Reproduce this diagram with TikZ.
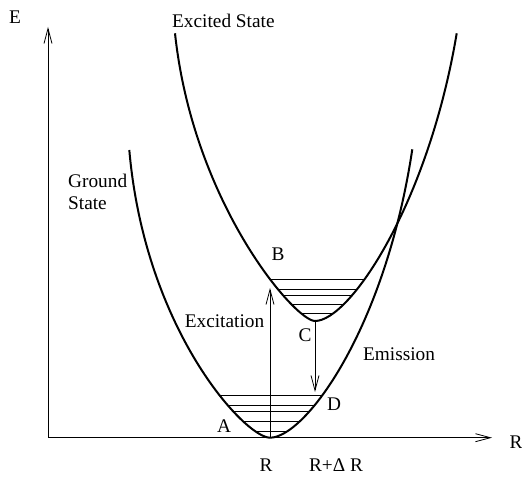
\documentclass[tikz,border=0pt]{standalone}
\usepackage{fontspec}
\setmainfont{Liberation Serif}
\usetikzlibrary{arrows.meta}

\newcommand\groundcurve{(129.3,150) .. controls (145,330) and (245,437.7) .. (270,437.7)
  .. controls (305,437.7) and (385,330) .. (412.3,149.3)}
\newcommand\excitedcurve{(175,33.3) .. controls (193.2,203.3) and (295,321) .. (315,321)
  .. controls (350,321) and (428.3,203.3) .. (456.7,33.3)}

\begin{document}
\begin{tikzpicture}[x=1pt,y=-1pt,
  curve/.style={line width=2pt},
  level/.style={line width=0.7pt},
  arr/.style={line width=0.8pt,-{Straight Barb[length=15pt,width=8pt]}},
  lbl/.style={font=\fontsize{19.3}{22.5}\selectfont,inner sep=0pt}]
  \useasboundingbox (0,0) rectangle (522,478);

  % axes
  \coordinate (O) at (48,437.7);
  \coordinate (Etop) at (48,27);
  \coordinate (Rend) at (492,437.7);
  \draw[arr] (O) -- (Etop);
  \draw[arr] (O) -- (Rend);
  \node[lbl] (Elab) at (15,17) {E};
  \node[lbl] (Rlab) at (516,442) {R};

  % potential curves
  \draw[curve] \groundcurve;
  \draw[curve] \excitedcurve;

  % vibrational levels
  \begin{scope}
    \clip \groundcurve -- cycle;
    \foreach \y in {395.7,405.7,411.7,421.7,431}
      \draw[level] (200,\y) -- (340,\y);
  \end{scope}
  \begin{scope}
    \clip \excitedcurve -- cycle;
    \foreach \y in {279.3,289,295.7,304.3,313.3}
      \draw[level] (250,\y) -- (380,\y);
  \end{scope}

  % transitions
  \coordinate (Apt) at (270,437.7);
  \coordinate (Bpt) at (270,288);
  \coordinate (Cpt) at (315,321);
  \coordinate (Dpt) at (315,392);
  \draw[arr] (Apt) -- (Bpt);
  \draw[arr] (Cpt) -- (Dpt);

  % labels
  \node[lbl,anchor=base west] (exclab) at (172,28) {Excited State};
  \node[lbl,anchor=base west,align=left] (gndlab) at (68,210) {Ground\\State};
  \node[lbl] (B) at (278,254) {B};
  \node[lbl] (C) at (305,335) {C};
  \node[lbl] (D) at (334,404) {D};
  \node[lbl] (A) at (224,426) {A};
  \node[lbl] (excitation) at (224.5,321.7) {Excitation};
  \node[lbl] (emission) at (399,354) {Emission};
  \node[lbl] (R0) at (266,465) {R};
  \node[lbl] (R1) at (336,465) {R+Δ R};
\end{tikzpicture}
\end{document}
